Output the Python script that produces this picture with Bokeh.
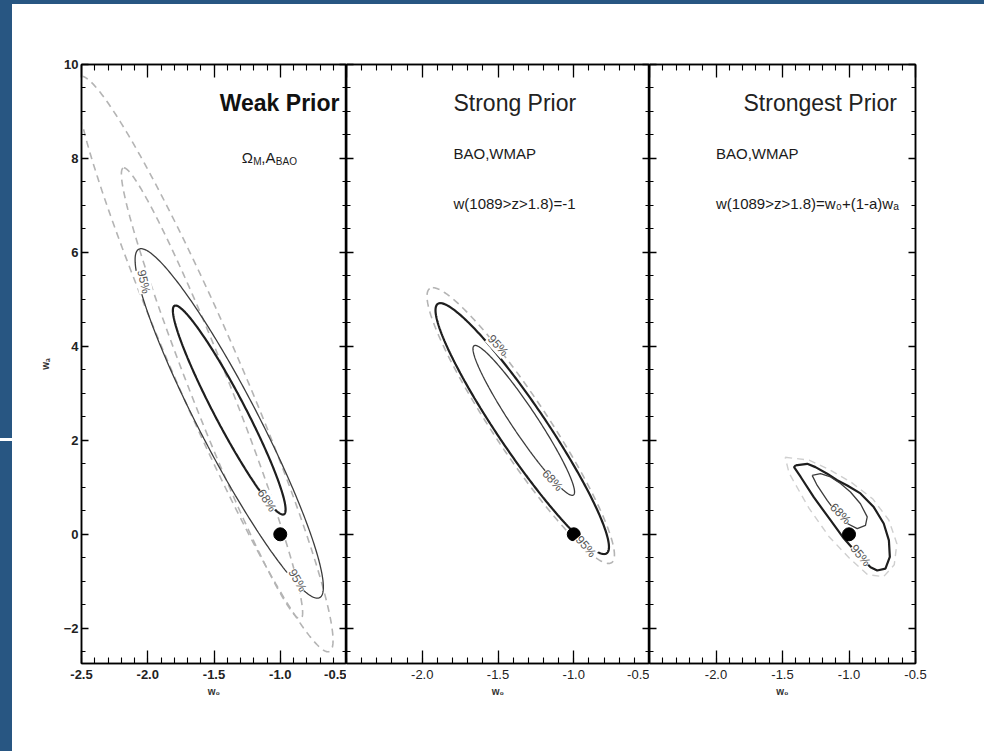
import numpy as np
from bokeh.plotting import figure
from bokeh.layouts import row, column
from bokeh.models import Range1d, LinearAxis, FixedTicker, PrintfTickFormatter, Label, Div
from bokeh.embed import file_html
from bokeh.resources import INLINE

# ---------------- data ----------------
x_ticks = [-2.5, -2.0, -1.5, -1.0, -0.5]
x_ticks_inner = [-2.0, -1.5, -1.0, -0.5]   # -2.5 label of panels 2,3 sits under the previous -0.5
x_minor = [-2.5, -2.4, -2.3, -2.2, -2.1, -2.0, -1.9, -1.8, -1.7, -1.6, -1.5,
           -1.4, -1.3, -1.2, -1.1, -1.0, -0.9, -0.8, -0.7, -0.6, -0.5]
y_ticks = [-2, 0, 2, 4, 6, 8, 10]
y_minor = [-2.5, -2.0, -1.5, -1.0, -0.5, 0.0, 0.5, 1.0, 1.5, 2.0, 2.5, 3.0, 3.5, 4.0,
           4.5, 5.0, 5.5, 6.0, 6.5, 7.0, 7.5, 8.0, 8.5, 9.0, 9.5, 10.0]

fiducial_w0 = [-1.0]
fiducial_wa = [0.0]

# elliptical contours: (top w0, top wa, bottom w0, bottom wa, half width in w0 at centre)
weak_68 = (-1.79, 4.87, -0.98, 0.42, 0.13)
weak_95 = (-2.05, 6.08, -0.72, -1.36, 0.25)
weak_68_noprior = (-2.18, 7.80, -0.85, -1.80, 0.16)
weak_95_noprior = (-2.50, 9.75, -0.64, -2.50, 0.27)

strong_68 = (-1.65, 4.02, -1.01, 0.83, 0.10)
strong_95 = (-1.88, 4.92, -0.80, -0.42, 0.19)
strong_95_noprior = (-1.93, 5.25, -0.77, -0.62, 0.215)

# strongest prior contours (irregular), read point by point
strongest_95_w0 = [-1.402, -1.314, -1.252, -1.164, -1.089, -1.013, -0.914, -0.814, -0.739,
                   -0.700, -0.693, -0.726, -0.788, -0.838, -0.938, -1.038, -1.139, -1.265,
                   -1.363, -1.413, -1.402]
strongest_95_wa = [1.468, 1.50, 1.43, 1.29, 1.15, 1.04, 0.87, 0.58, 0.23,
                   -0.13, -0.48, -0.73, -0.77, -0.70, -0.41, -0.09, 0.30, 0.79,
                   1.22, 1.43, 1.468]
strongest_68_w0 = [-1.277, -1.214, -1.139, -1.064, -0.989, -0.914, -0.863, -0.876, -0.938,
                   -1.013, -1.089, -1.164, -1.239, -1.277]
strongest_68_wa = [1.255, 1.29, 1.22, 1.08, 0.90, 0.65, 0.37, 0.19, 0.12,
                   0.23, 0.44, 0.72, 1.04, 1.255]
strongest_95_noprior_w0 = [-1.48, -1.30, -1.15, -0.98, -0.82, -0.70, -0.64, -0.66, -0.74,
                           -0.86, -1.00, -1.15, -1.30, -1.45, -1.48]
strongest_95_noprior_wa = [1.64, 1.58, 1.38, 1.10, 0.75, 0.30, -0.20, -0.65, -0.90,
                           -0.86, -0.50, -0.05, 0.55, 1.30, 1.64]

# ---------------- style ----------------
FONT = "Liberation Sans"
BLUE = "#285682"
DARK = "#1e1e1e"
MID = "#3c3c3c"
DASH = "#b4b4b4"


def conj_ellipse(c, n=300):
    tx, ty, bx, by, hw = c
    t = np.linspace(0, 2 * np.pi, n)
    cx, cy = (tx + bx) / 2, (ty + by) / 2
    ax, ay = (tx - bx) / 2, (ty - by) / 2
    return cx + ax * np.cos(t) + hw * np.sin(t), cy + ay * np.cos(t)


def hidden_axis(ticks, minor, tin, mtin):
    return LinearAxis(ticker=FixedTicker(ticks=ticks, minor_ticks=minor),
                      major_label_text_font_size="0px", major_label_text_color=None,
                      major_label_standoff=0,
                      major_tick_in=tin, major_tick_out=0, minor_tick_in=mtin, minor_tick_out=0,
                      axis_line_width=1.5, major_tick_line_width=1.3, minor_tick_line_width=1.1)


def make_panel(frame_w, left_b, right_b, first):
    p = figure(frame_width=frame_w, frame_height=599,
               x_range=Range1d(-2.5, -0.5), y_range=Range1d(-2.75, 10),
               min_border_left=left_b, min_border_right=right_b,
               min_border_top=60, min_border_bottom=88,
               output_backend="svg", toolbar_location=None,
               background_fill_color="white", border_fill_color="white")
    p.outline_line_color = "black"
    p.outline_line_width = 1.5
    p.xgrid.visible = False
    p.ygrid.visible = False

    xa = p.xaxis[0]
    xa.ticker = FixedTicker(ticks=x_ticks if first else x_ticks_inner, minor_ticks=x_minor)
    xa.formatter = PrintfTickFormatter(format="%.1f")
    xa.major_tick_in, xa.major_tick_out = 13, 0
    xa.minor_tick_in, xa.minor_tick_out = 6, 0
    xa.axis_line_width = 1.5
    xa.major_tick_line_width = 1.3
    xa.minor_tick_line_width = 1.1
    xa.major_label_text_font = FONT
    xa.major_label_text_font_size = "13px"
    xa.major_label_text_font_style = "bold" if first else "normal"
    xa.major_label_text_color = "#222222"
    xa.major_label_standoff = 6
    xa.axis_label = "w₀"
    xa.axis_label_text_font = FONT
    xa.axis_label_text_font_size = "10px"
    xa.axis_label_text_font_style = "bold"
    xa.axis_label_text_color = "#333333"
    xa.axis_label_standoff = 4

    ya = p.yaxis[0]
    ya.ticker = FixedTicker(ticks=y_ticks, minor_ticks=y_minor)
    ya.major_tick_in, ya.major_tick_out = 7, 0
    ya.minor_tick_in, ya.minor_tick_out = 4, 0
    ya.axis_line_width = 1.5
    ya.major_tick_line_width = 1.3
    ya.minor_tick_line_width = 1.1
    if first:
        ya.major_label_text_font = FONT
        ya.major_label_text_font_size = "13px"
        ya.major_label_text_font_style = "bold"
        ya.major_label_text_color = "#222222"
        ya.major_label_standoff = 3
        ya.axis_label = "wₐ"
        ya.axis_label_text_font = FONT
        ya.axis_label_text_font_size = "10px"
        ya.axis_label_text_font_style = "bold"
        ya.axis_label_text_color = "#333333"
        ya.axis_label_standoff = 10
    else:
        ya.major_label_text_font_size = "0px"
        ya.major_label_text_color = None
        ya.major_label_standoff = 0

    p.add_layout(hidden_axis(x_ticks, x_minor, 13, 6), "above")
    p.add_layout(hidden_axis(y_ticks, y_minor, 7, 4), "right")
    return p


def text(p, x, y, s, size="15px", style="normal", align="left", color="#1a1a1a",
         x_off=0, y_off=0):
    p.add_layout(Label(x=x, y=y, text=s, text_font=FONT, text_font_size=size,
                       text_font_style=style, text_align=align, text_baseline="middle",
                       text_color=color, x_offset=x_off, y_offset=y_off))


def clabel(p, x, y, s, ang):
    p.add_layout(Label(x=x, y=y, text=s, text_font=FONT, text_font_size="12px",
                       text_align="center", text_baseline="middle", text_color="#555555",
                       angle=ang, angle_units="deg", background_fill_color="white"))


# ---------------- panel 1 : weak prior ----------------
p1 = make_panel(265, 69, 0, True)
for c in (weak_95_noprior, weak_68_noprior):
    xs, ys = conj_ellipse(c)
    p1.line(xs, ys, line_color=DASH, line_width=1.6, line_dash="7 5")
xs, ys = conj_ellipse(weak_95)
p1.line(xs, ys, line_color=MID, line_width=1.3)
xs, ys = conj_ellipse(weak_68)
p1.line(xs, ys, line_color=DARK, line_width=2.2)
p1.scatter(fiducial_w0, fiducial_wa, size=13, color="black")
clabel(p1, -1.10, 0.72, "68%", -57)
clabel(p1, -0.87, -0.98, "95%", -60)
clabel(p1, -2.03, 5.38, "95%", -78)
text(p1, -0.553, 9.19, "Weak Prior", size="23px", style="bold", align="right", color="#111111")
text(p1, -1.29, 8.02, "Ω")
text(p1, -1.29, 8.02, "M", size="10px", x_off=11.5, y_off=-4)
text(p1, -1.29, 8.02, ",A", x_off=19.5)
text(p1, -1.29, 8.02, "BAO", size="10px", x_off=34, y_off=-4)

# ---------------- panel 2 : strong prior ----------------
p2 = make_panel(303, 0, 0, False)
xs, ys = conj_ellipse(strong_95_noprior)
p2.line(xs, ys, line_color=DASH, line_width=1.6, line_dash="7 5")
xs, ys = conj_ellipse(strong_95)
p2.line(xs, ys, line_color=DARK, line_width=2.2)
xs, ys = conj_ellipse(strong_68)
p2.line(xs, ys, line_color=MID, line_width=1.3)
clabel(p2, -1.50, 4.02, "95%", -48)
clabel(p2, -1.14, 1.15, "68%", -47)
clabel(p2, -0.92, -0.26, "95%", -50)
p2.scatter(fiducial_w0, fiducial_wa, size=13, color="black")
text(p2, -1.794, 9.19, "Strong Prior", size="23px", color="#222222")
text(p2, -1.794, 8.10, "BAO,WMAP")
text(p2, -1.794, 7.04, "w(1089>z>1.8)=-1")

# ---------------- panel 3 : strongest prior ----------------
p3 = make_panel(266, 0, 69, False)
p3.line(strongest_95_noprior_w0, strongest_95_noprior_wa, line_color="#cfcfcf",
        line_width=1.4, line_dash="7 5")
p3.line(strongest_95_w0, strongest_95_wa, line_color=DARK, line_width=2.2)
p3.line(strongest_68_w0, strongest_68_wa, line_color=MID, line_width=1.3)
clabel(p3, -1.064, 0.44, "68%", -45)
clabel(p3, -0.914, -0.45, "95%", -50)
p3.scatter(fiducial_w0, fiducial_wa, size=13, color="black")
text(p3, -1.793, 9.19, "Strongest Prior", size="23px", color="#222222")
text(p3, -2.0, 8.10, "BAO,WMAP")
text(p3, -2.0, 7.04, "w(1089>z>1.8)=w₀+(1-a)wₐ")

# ---------------- blue page frame (top band + left strip) ----------------
def block(w, h, colour):
    return Div(width=w, height=h, margin=0, styles={"background-color": colour})

top_band = block(984, 4, BLUE)
strip = column(block(12, 434, BLUE), block(12, 3, "white"), block(12, 310, BLUE),
               spacing=0)

layout = column(top_band, row(strip, p1, p2, p3, spacing=0), spacing=0)
open("out.html", "w").write(file_html(layout, INLINE))
